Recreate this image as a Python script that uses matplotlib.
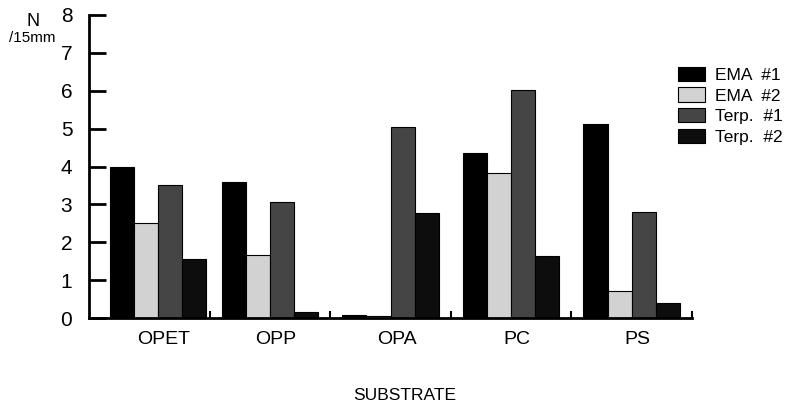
import numpy as np
import matplotlib
matplotlib.use('Agg')
import matplotlib.pyplot as plt

# 数据
substrates = ['OPET', 'OPP', 'OPA', 'PC', 'PS']
series = ['EMA  #1', 'EMA  #2', 'Terp.  #1', 'Terp.  #2']
ema1 = [4.0, 3.6, 0.07, 4.35, 5.12]
ema2 = [2.5, 1.67, 0.04, 3.82, 0.7]
terp1 = [3.52, 3.06, 5.03, 6.02, 2.8]
terp2 = [1.57, 0.15, 2.77, 1.63, 0.4]

colors = ['#000000', '#d2d2d2', '#454545', '#0d0d0d']

plt.rcParams['font.family'] = ['Liberation Sans', 'DejaVu Sans']

fig = plt.figure(figsize=(7.89, 4.05), dpi=100)
ax = fig.add_axes([89 / 789, 1 - 318 / 405, 603 / 789, 303 / 405])

x = np.arange(len(substrates)) + 0.5
x[0] += 0.07  # 原图第一组略偏右
width = 0.2
for i, (vals, name) in enumerate(zip([ema1, ema2, terp1, terp2], series)):
    ax.bar(x + (i - 1.5) * width, vals, width, color=colors[i],
           edgecolor='black', linewidth=0.8, label=name)

ax.set_xlim(0, 5)
ax.set_ylim(0, 8)
ax.set_yticks(range(9))
ax.set_xticks(x + 0.05)
ax.set_xticklabels(substrates, fontsize=14)
ax.set_xticks(np.arange(1, 6), minor=True)
ax.tick_params(axis='x', which='major', length=0, pad=9)
ax.tick_params(axis='x', which='minor', direction='in', length=5, width=1.5)
ax.tick_params(axis='y', direction='in', length=12, width=2, pad=12, labelsize=15)

for s in ['top', 'right']:
    ax.spines[s].set_visible(False)
for s in ['left', 'bottom']:
    ax.spines[s].set_linewidth(2)

fig.text(33 / 789, 1 - 21 / 405, 'N', fontsize=13, ha='center', va='center')
fig.text(32 / 789, 1 - 38 / 405, '/15mm', fontsize=11, ha='center', va='center')
fig.text(405 / 789, 1 - 396 / 405, 'SUBSTRATE', fontsize=12.5, ha='center', va='center')

ax.legend(loc='upper left', bbox_to_anchor=(582 / 603, 1 - 45 / 303), frameon=False,
          fontsize=12.5, handlelength=1.55, handleheight=0.9, labelspacing=0.25,
          handletextpad=0.6, borderaxespad=0)

fig.savefig('out.png', dpi=100)
